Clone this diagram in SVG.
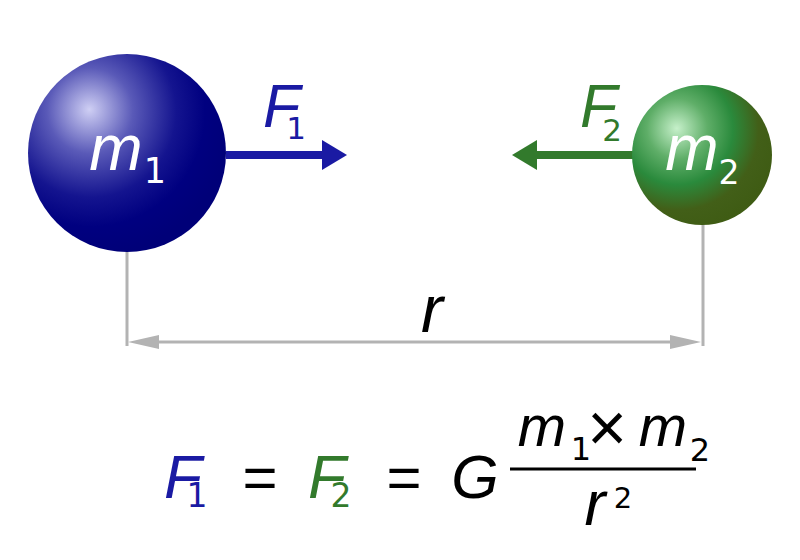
<svg xmlns="http://www.w3.org/2000/svg" width="800" height="560" viewBox="0 0 800 560">
<defs>
<radialGradient id="gBlue" cx="0.32" cy="0.3" r="0.72" fx="0.31" fy="0.28">
<stop offset="0" stop-color="#cfcff4"/>
<stop offset="0.3" stop-color="#5a5ab8"/>
<stop offset="0.6" stop-color="#14148f"/>
<stop offset="0.8" stop-color="#000080"/>
<stop offset="1" stop-color="#000078"/>
</radialGradient>
<radialGradient id="gGreen" cx="0.33" cy="0.32" r="0.72" fx="0.32" fy="0.31">
<stop offset="0" stop-color="#c6f0ca"/>
<stop offset="0.3" stop-color="#5fae68"/>
<stop offset="0.55" stop-color="#2a8a3c"/>
<stop offset="0.8" stop-color="#425f18"/>
<stop offset="1" stop-color="#3f5c14"/>
</radialGradient>
</defs>
<style>
.it{font-family:"Liberation Sans",Arial,sans-serif;font-style:italic}
.up{font-family:"Liberation Sans",Arial,sans-serif}
.dg{font-family:"DejaVu Sans",sans-serif;font-style:normal;text-anchor:middle}
.mid{text-anchor:middle}
.white{fill:#ffffff}
.blue{fill:#1a1aa3}
.green{fill:#327a2c}
.black{fill:#000000}
.dim{stroke:#b3b3b3;stroke-width:3;fill:none}
.dimhead{fill:#b3b3b3}
</style>
<g id="connectors">
<g id="force1">
<rect x="226" y="151" width="97" height="8" fill="#1a1aa3"/>
<polygon points="322,140 347,155 322,170" fill="#1a1aa3"/>
</g>
<g id="force2">
<rect x="536" y="151" width="98" height="8" fill="#327a2c"/>
<polygon points="537,140 512,155 537,170" fill="#327a2c"/>
</g>
<g id="distance">
<line class="dim" x1="127" y1="252" x2="127" y2="346"/>
<line class="dim" x1="703" y1="223" x2="703" y2="346"/>
<line class="dim" x1="155" y1="342" x2="674" y2="342"/>
<polygon class="dimhead" points="128,342 159,335 159,349"/>
<polygon class="dimhead" points="701,342 670,335 670,349"/>
</g>
</g>
<g id="mass1">
<circle cx="127" cy="153" r="99" fill="url(#gBlue)"/>
<text class="it white" font-size="64"><tspan x="116" y="170" text-anchor="middle">m</tspan><tspan class="dg" x="155" y="183" font-size="35">1</tspan></text>
</g>
<g id="mass2">
<circle cx="702" cy="155" r="70" fill="url(#gGreen)"/>
<text class="it white" font-size="64"><tspan x="692" y="170" text-anchor="middle">m</tspan><tspan class="dg" x="729" y="184" font-size="33">2</tspan></text>
</g>
<g id="label-F1">
<text class="it blue" font-size="61"><tspan x="263" y="127">F</tspan><tspan class="dg" x="296" y="139" font-size="31">1</tspan></text>
</g>
<g id="label-F2">
<text class="it green" font-size="61"><tspan x="580" y="127">F</tspan><tspan class="dg" x="612" y="141" font-size="31">2</tspan></text>
</g>
<g id="label-r">
<text class="it black mid" x="432" y="332" font-size="66">r</text>
</g>
<g id="formula">
<text class="it blue" font-size="62"><tspan x="164" y="498">F</tspan><tspan class="dg" x="197" y="507" font-size="33">1</tspan></text>
<text class="up black mid" x="260" y="498" font-size="60">=</text>
<text class="it green" font-size="62"><tspan x="308" y="498">F</tspan><tspan class="dg" x="341" y="507" font-size="33">2</tspan></text>
<text class="up black mid" x="404" y="498" font-size="60">=</text>
<text class="it black mid" x="475" y="498" font-size="61">G</text>
<line x1="510" y1="469" x2="696" y2="469" stroke="#000" stroke-width="3"/>
<text class="it black" font-size="58"><tspan x="542" y="446" text-anchor="middle">m</tspan><tspan class="dg" x="581" y="460" font-size="32">1</tspan><tspan class="up" x="607" y="451" font-size="68" font-style="normal" text-anchor="middle">×</tspan><tspan x="663" y="446" text-anchor="middle">m</tspan><tspan class="dg" x="700" y="461" font-size="32">2</tspan></text>
<text class="it black" font-size="63"><tspan x="595" y="525" text-anchor="middle">r</tspan><tspan class="dg" x="623" y="508" font-size="29">2</tspan></text>
</g>
</svg>
